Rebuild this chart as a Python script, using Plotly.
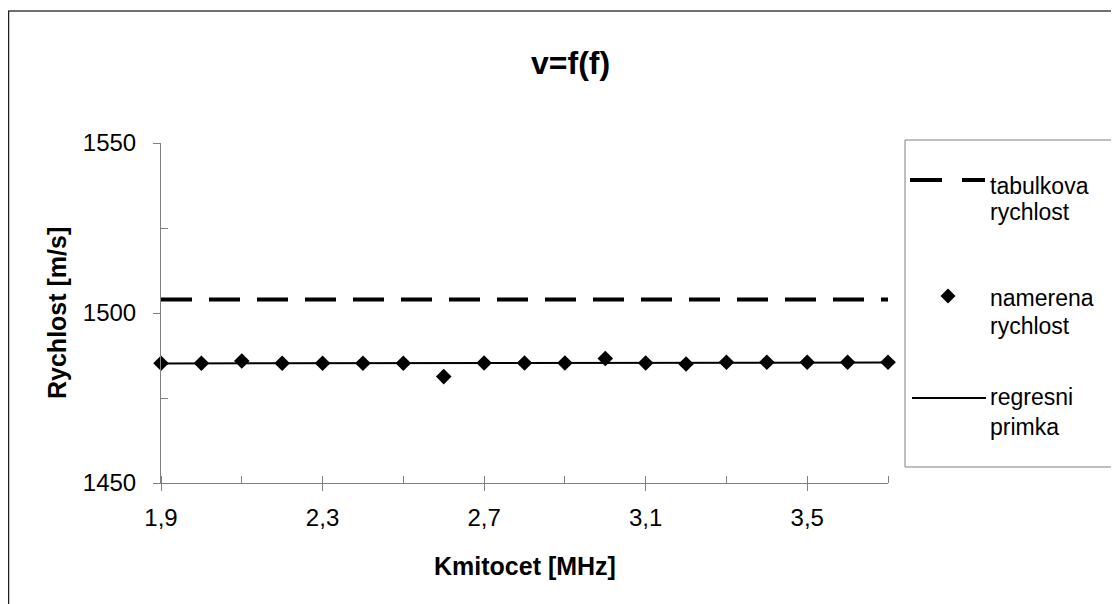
import plotly.graph_objects as go

# ---- data ----
freq = [1.9, 2.0, 2.1, 2.2, 2.3, 2.4, 2.5, 2.6, 2.7, 2.8, 2.9, 3.0, 3.1, 3.2, 3.3, 3.4, 3.5, 3.6, 3.7]
measured = [1485.2, 1485.2, 1485.9, 1485.2, 1485.2, 1485.2, 1485.2, 1481.3, 1485.3, 1485.3,
            1485.3, 1486.6, 1485.3, 1485.0, 1485.5, 1485.5, 1485.5, 1485.5, 1485.5]
table_x = [1.9, 3.7]
table_y = [1504.0, 1504.0]
regress_x = [1.9, 3.7]
regress_y = [1485.15, 1485.45]
x_ticks = [1.9, 2.3, 2.7, 3.1, 3.5]
x_minor = [1.9, 2.1, 2.3, 2.5, 2.7, 2.9, 3.1, 3.3, 3.5, 3.7]
y_ticks = [1450, 1500, 1550]
y_minor = [1475, 1525]

OFF = 8  # page body margin
W, H = 1119 - OFF, 604 - OFF
# plot area in reference (page) pixels
PL, PR, PT, PB = 161, 888, 143, 483
L, R, T, B = PL - OFF, PR - OFF, PT - OFF, PB - OFF


def px(x):
    return (x - OFF - L) / (R - L)


def py(y):
    return (B - (y - OFF)) / (B - T)


FONT = "Liberation Sans, Arial, sans-serif"

fig = go.Figure()
fig.add_trace(go.Scatter(x=table_x, y=table_y, mode="lines",
                         line=dict(color="black", width=4, dash="31px,17px"),
                         name="tabulkova rychlost", cliponaxis=False))
fig.add_trace(go.Scatter(x=regress_x, y=regress_y, mode="lines",
                         line=dict(color="black", width=2),
                         name="regresni primka", cliponaxis=False))
fig.add_trace(go.Scatter(x=freq, y=measured, mode="markers",
                         marker=dict(symbol="diamond", size=12, color="black"),
                         name="namerena rychlost", cliponaxis=False))

axis_common = dict(showgrid=False, zeroline=False, showline=True, linecolor="#808080",
                   linewidth=1, ticks="outside", ticklen=7, tickcolor="#808080")

fig.update_xaxes(range=[1.9, 3.7], tickmode="array", tickvals=x_ticks,
                 ticktext=[f"{v:.1f}".replace(".", ",") for v in x_ticks],
                 minor=dict(tickmode="array", tickvals=x_minor, ticks="inside", ticklen=7,
                            tickcolor="#808080"),
                 tickfont=dict(family=FONT, size=24, color="black"),
                 ticklabelstandoff=6, **axis_common)
fig.update_yaxes(range=[1450, 1550], tickmode="array", tickvals=y_ticks,
                 ticktext=[str(v) for v in y_ticks],
                 minor=dict(tickmode="array", tickvals=y_minor, ticks="inside", ticklen=7,
                            tickcolor="#808080"),
                 tickfont=dict(family=FONT, size=24, color="black"),
                 ticklabelstandoff=12, **axis_common)

shapes = []
# outer chart border (top and left visible)
shapes.append(dict(type="line", xref="paper", yref="paper", x0=px(8), x1=px(1125), y0=py(11), y1=py(11),
                   line=dict(color="#404040", width=1.5)))
shapes.append(dict(type="line", xref="paper", yref="paper", x0=px(8.5), x1=px(8.5), y0=py(11), y1=py(610),
                   line=dict(color="#202020", width=1.5)))
# legend box
shapes.append(dict(type="rect", xref="paper", yref="paper", x0=px(905), x1=px(1117), y0=py(140), y1=py(467),
                   line=dict(color="#808080", width=1), fillcolor="rgba(0,0,0,0)"))
# legend samples
shapes.append(dict(type="line", xref="paper", yref="paper", x0=px(910), x1=px(985), y0=py(180), y1=py(180),
                   line=dict(color="black", width=4, dash="32px,20px")))
shapes.append(dict(type="line", xref="paper", yref="paper", x0=px(912), x1=px(986), y0=py(398), y1=py(398),
                   line=dict(color="black", width=2)))
dx, dy = 7.5, 7.5
cx, cy = 948, 296
shapes.append(dict(type="path", xref="paper", yref="paper",
                   path=f"M {px(cx)} {py(cy - dy)} L {px(cx + dx)} {py(cy)} L {px(cx)} {py(cy + dy)} L {px(cx - dx)} {py(cy)} Z",
                   fillcolor="black", line=dict(color="black", width=0)))

annotations = []
annotations.append(dict(text="<b>v=f(f)</b>", xref="paper", yref="paper", x=px(570), y=py(63),
                        showarrow=False, font=dict(family=FONT, size=32, color="black"),
                        xanchor="center", yanchor="middle"))
annotations.append(dict(text="<b>Rychlost [m/s]</b>", xref="paper", yref="paper", x=px(57), y=py(313),
                        showarrow=False, textangle=-90, font=dict(family=FONT, size=25, color="black"),
                        xanchor="center", yanchor="middle"))
annotations.append(dict(text="<b>Kmitocet [MHz]</b>", xref="paper", yref="paper", x=px(525), y=py(566),
                        showarrow=False, font=dict(family=FONT, size=25, color="black"),
                        xanchor="center", yanchor="middle"))
legend_lines = [("tabulkova", 186), ("rychlost", 212), ("namerena", 298), ("rychlost", 326),
                ("regresni", 397), ("primka", 427)]
for txt, yc in legend_lines:
    annotations.append(dict(text=txt, xref="paper", yref="paper", x=px(988), y=py(yc),
                            showarrow=False, font=dict(family=FONT, size=23, color="black"),
                            xanchor="left", yanchor="middle", align="left"))

fig.update_layout(width=W, height=H, margin=dict(l=L, r=W - R, t=T, b=H - B),
                  paper_bgcolor="white", plot_bgcolor="white", showlegend=False,
                  shapes=shapes, annotations=annotations,
                  font=dict(family=FONT, color="black"))

fig.write_html("out.html")
